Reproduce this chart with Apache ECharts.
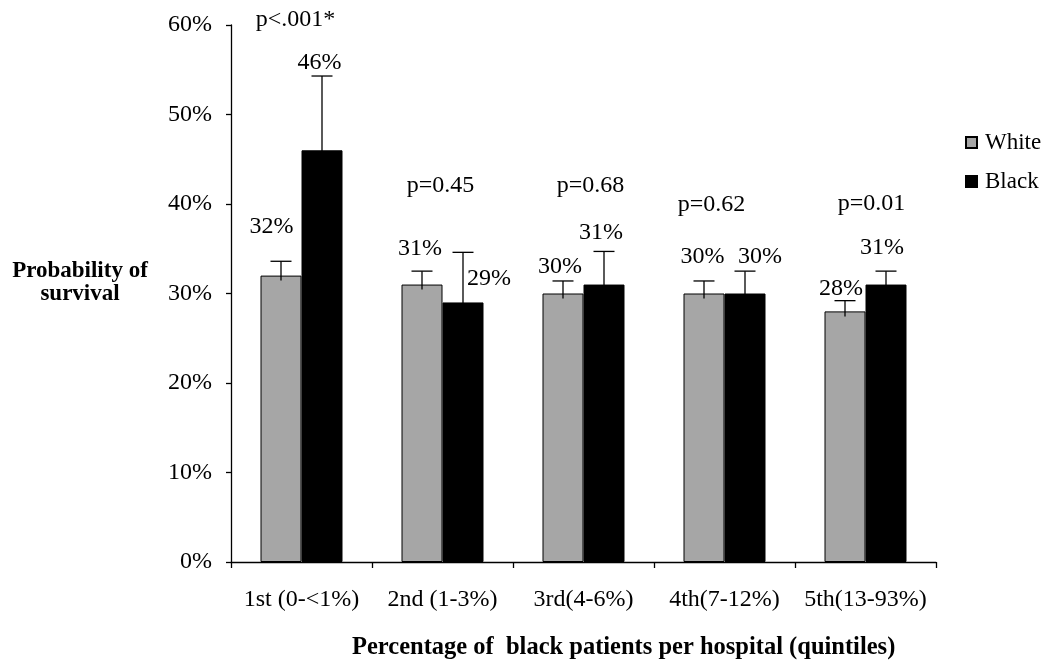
<!DOCTYPE html>
<html>
<head>
<meta charset="utf-8">
<script src="https://cdn.jsdelivr.net/npm/echarts@6/dist/echarts.min.js"></script>
<style>
html,body{margin:0;padding:0;background:#fff;}
#chart{width:1050px;height:669px;}
</style>
</head>
<body>
<div id="chart"></div>
<script>
// ---- data ----
const categories = ['1st (0-<1%)', '2nd (1-3%)', '3rd(4-6%)', '4th(7-12%)', '5th(13-93%)'];
const whiteValues = [32, 31, 30, 30, 28];
const blackValues = [46, 29, 31, 30, 31];
const whiteUpper = [33.6, 32.5, 31.4, 31.4, 29.2];
const blackUpper = [54.3, 34.6, 34.7, 32.5, 32.5];
const pLabels = ['p<.001*', 'p=0.45', 'p=0.68', 'p=0.62', 'p=0.01'];
const yMin = 0, yMax = 60, yStep = 10;

// ---- layout (pixel offsets of hand-placed labels) ----
const whiteLabelOffset = [[-9.5, -35], [-2, -22], [-3, -14], [-1.5, -24], [-4, -12]];
const blackLabelOffset = [[-2.5, -13], [26, 26], [-3, -19], [15, -14], [-4, -23]];
const pLabelOffset = [[-6, -5], [-2, -67], [7, -66], [-13, -66], [6, -67]]; // relative to higher cap
const BAR_W = 41, CAP_W = 21;
const FONT = '"Liberation Serif", "Times New Roman", serif';

const chart = echarts.init(document.getElementById('chart'), null, {renderer: 'canvas'});

function errData(vals, ups) { return vals.map((v, i) => [i, v, ups[i]]); }

function errRender(side) {
  return function (params, api) {
    const i = api.value(0);
    const c = api.coord([i, api.value(1)]);
    const u = api.coord([i, api.value(2)]);
    const x = c[0] + side * BAR_W / 2;
    const st = {stroke: '#000', lineWidth: 1.3};
    return {type: 'group', children: [
      {type: 'line', shape: {x1: x, y1: c[1] + 5, x2: x, y2: u[1]}, style: st},
      {type: 'line', shape: {x1: x - CAP_W / 2, y1: u[1], x2: x + CAP_W / 2, y2: u[1]}, style: st}
    ]};
  };
}

function labelRender(params, api) {
  const i = api.value(0);
  const children = [];
  const wc = api.coord([i, whiteUpper[i]]);
  const bc = api.coord([i, blackUpper[i]]);
  const font = '24px ' + FONT;
  children.push({type: 'text', x: wc[0] - BAR_W / 2 + whiteLabelOffset[i][0], y: wc[1] + whiteLabelOffset[i][1],
    style: {text: whiteValues[i] + '%', font: font, fill: '#000', align: 'center', verticalAlign: 'middle'}});
  children.push({type: 'text', x: bc[0] + BAR_W / 2 + blackLabelOffset[i][0], y: bc[1] + blackLabelOffset[i][1],
    style: {text: blackValues[i] + '%', font: font, fill: '#000', align: 'center', verticalAlign: 'middle'}});
  const top = Math.min(wc[1], bc[1]);
  children.push({type: 'text', x: wc[0] + pLabelOffset[i][0], y: (i === 0 ? api.coord([i, yMax])[1] : top) + pLabelOffset[i][1],
    style: {text: pLabels[i], font: font, fill: '#000', align: 'center', verticalAlign: 'middle'}});
  return {type: 'group', children: children};
}

const option = {
  backgroundColor: '#fff',
  animation: false,
  textStyle: {fontFamily: FONT, color: '#000'},
  grid: {left: 231, right: 114, top: 25, bottom: 107, containLabel: false},
  legend: {
    data: ['White', 'Black'],
    orient: 'vertical',
    left: 960, top: 126,
    icon: 'rect',
    itemWidth: 11, itemHeight: 11, itemGap: 16,
    textStyle: {fontFamily: FONT, fontSize: 23, color: '#000', padding: [0, 0, 0, 3]}
  },
  xAxis: {
    type: 'category',
    data: categories,
    axisLine: {lineStyle: {color: '#000', width: 1.3}},
    axisTick: {show: true, length: 6, lineStyle: {color: '#000', width: 1.3}},
    axisLabel: {color: '#000', fontFamily: FONT, fontSize: 24, margin: 26, interval: 0},
    splitLine: {show: false}
  },
  yAxis: {
    type: 'value',
    min: yMin, max: yMax, interval: yStep,
    axisLine: {show: true, lineStyle: {color: '#000', width: 1.3}},
    axisTick: {show: true, length: 5, lineStyle: {color: '#000', width: 1.3}},
    axisLabel: {color: '#000', fontFamily: FONT, fontSize: 24, margin: 19, formatter: '{value}%', padding: [7, 0, 0, 0]},
    splitLine: {show: false}
  },
  graphic: [
    {type: 'text', x: 80, y: 283, style: {text: 'Probability of\nsurvival', font: 'bold 23px ' + FONT, fill: '#000', align: 'center', verticalAlign: 'middle', lineHeight: 23}},
    {type: 'text', x: 352, y: 648, style: {text: 'Percentage of  black patients per hospital (quintiles)', font: 'bold 24.5px ' + FONT, fill: '#000', align: 'left', verticalAlign: 'middle'}}
  ],
  series: [
    {name: 'White', type: 'bar', data: whiteValues, barWidth: BAR_W, barGap: '0%',
      itemStyle: {color: '#A6A6A6', borderColor: '#000', borderWidth: 1}},
    {name: 'Black', type: 'bar', data: blackValues, barWidth: BAR_W, barGap: '0%',
      itemStyle: {color: '#000', borderColor: '#000', borderWidth: 1}},
    {name: 'errW', type: 'custom', data: errData(whiteValues, whiteUpper), renderItem: errRender(-1), z: 3,
      encode: {x: 0, y: 1}, silent: true},
    {name: 'errB', type: 'custom', data: errData(blackValues, blackUpper), renderItem: errRender(1), z: 3,
      encode: {x: 0, y: 1}, silent: true},
    {name: 'labels', type: 'custom', data: categories.map((c, i) => [i, 0]), renderItem: labelRender, z: 4,
      encode: {x: 0, y: 1}, silent: true, clip: false}
  ]
};
chart.setOption(option);
</script>
</body>
</html>
